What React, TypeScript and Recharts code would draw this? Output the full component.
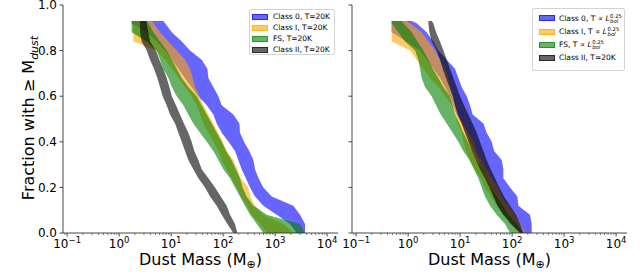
import React from 'react';
import { ComposedChart, Area, XAxis, YAxis } from 'recharts';

// Fraction of sources with mass >= M (shared vertical grid)
const fracs = [0.93, 0.92, 0.88, 0.84, 0.80, 0.76, 0.72, 0.68, 0.64, 0.60, 0.56, 0.52, 0.48, 0.44, 0.40, 0.36, 0.32, 0.28, 0.24, 0.20, 0.16, 0.12, 0.08, 0.04, 0.00];

// Left panel (T = 20K): lower / upper dust mass (M_earth) of each band
const class0LeftLo = [1.74, 1.74, 3.39, 5.26, 7.64, 10.3, 13.8, 18.5, 24.8, 33.4, 48.4, 64.9, 75.2, 93.9, 127, 169, 196, 227, 274, 329, 411, 594, 1073, 1936, 2600];
const class0LeftHi = [7.08, 7.64, 10.3, 16.0, 23.1, 38.7, 49.8, 52.0, 64.9, 81.0, 93.9, 157, 206, 211, 252, 318, 382, 411, 479, 594, 860, 2240, 3020, 3760, 3760];
const class1LeftLo = [1.88, 1.88, 1.88, 1.88, 5.26, 7.64, 10.3, 13.8, 18.5, 24.8, 31.0, 36.0, 41.7, 52.0, 64.9, 81.0, 93.9, 117, 145, 183, 218, 283, 355, 513, 690];
const class1LeftHi = [4.24, 4.55, 6.11, 8.84, 12.8, 18.5, 23.1, 26.0, 28.8, 35.1, 41.7, 52.0, 64.9, 81.0, 98.2, 117, 157, 188, 218, 305, 329, 411, 594, 1435, 2240];
const fsLeftLo = [1.74, 1.74, 1.74, 3.39, 5.26, 6.11, 7.08, 8.84, 10.3, 12.8, 17.2, 21.4, 26.7, 36.0, 48.4, 64.9, 81.0, 101, 136, 169, 211, 264, 329, 444, 594];
const fsLeftHi = [3.39, 3.65, 4.55, 6.11, 8.21, 10.3, 12.8, 16.0, 21.4, 31.0, 38.7, 48.4, 60.3, 75.2, 93.9, 114, 145, 176, 211, 237, 283, 382, 690, 3020, 3760];
const class2LeftLo = [2.52, 2.52, 2.52, 2.71, 3.39, 3.93, 4.69, 5.43, 6.11, 6.88, 8.21, 9.53, 11.9, 13.8, 16.0, 18.5, 21.4, 26.7, 33.4, 44.9, 56.0, 75.2, 93.9, 121, 157];
const class2LeftHi = [3.39, 3.39, 3.65, 3.93, 5.12, 5.93, 7.08, 8.21, 9.25, 10.3, 12.4, 14.8, 17.6, 21.4, 24.8, 27.9, 33.4, 38.7, 52.0, 69.8, 89.9, 117, 136, 169, 188];

// Right panel (T proportional to Lbol^0.25)
const class0RightLo = [0.482, 0.482, 0.482, 0.937, 1.69, 2.27, 3.05, 4.10, 5.12, 6.39, 7.41, 8.59, 10.7, 13.4, 15.5, 18.5, 22.4, 26.0, 32.4, 37.6, 44.9, 54.4, 67.9, 91.2, 142];
const class0RightHi = [1.17, 1.46, 2.27, 3.05, 3.81, 5.51, 7.97, 9.24, 10.7, 13.4, 15.5, 17.4, 28.0, 32.4, 40.5, 44.9, 63.0, 67.9, 67.9, 91.2, 126, 132, 221, 238, 238];
const class1RightLo = [0.482, 0.482, 0.482, 0.482, 1.09, 1.46, 1.96, 2.63, 3.81, 5.12, 6.88, 7.97, 8.84, 10.7, 11.5, 13.0, 15.5, 18.5, 24.9, 30.1, 38.7, 50.5, 65.9, 98.2, 142];
const class1RightHi = [0.937, 1.09, 1.82, 2.45, 3.29, 4.10, 5.12, 5.94, 6.68, 7.41, 7.97, 9.24, 11.5, 14.4, 18.5, 20.8, 26.0, 32.4, 40.5, 54.4, 63.0, 84.7, 114, 142, 177];
const fsRightLo = [0.482, 0.482, 0.648, 0.870, 1.36, 1.57, 1.69, 1.82, 2.11, 2.84, 3.44, 4.23, 5.51, 7.19, 9.24, 11.5, 15.1, 18.5, 22.4, 26.0, 30.1, 37.6, 50.5, 73.1, 91.2];
const fsRightHi = [0.751, 0.809, 1.17, 1.50, 1.96, 2.45, 2.97, 3.81, 4.76, 6.39, 7.19, 7.97, 9.66, 11.5, 14.0, 16.7, 20.8, 26.0, 32.4, 38.7, 50.5, 65.9, 84.7, 123, 165];
const class2RightLo = [2.45, 2.45, 2.56, 2.84, 3.54, 4.10, 4.62, 5.35, 6.20, 7.19, 7.97, 8.98, 10.7, 12.4, 14.4, 16.7, 20.2, 24.1, 30.1, 36.5, 43.6, 52.0, 67.9, 98.2, 142];
const class2RightHi = [2.84, 3.05, 3.44, 4.10, 4.76, 5.51, 6.39, 7.41, 8.59, 9.95, 11.9, 14.4, 17.4, 20.8, 24.1, 28.0, 32.4, 38.7, 46.9, 56.8, 69.9, 91.2, 119, 142, 165];

// Axis extent and ticks
const xDomain = [0.0832, 16200];
const xMajorTicks = [0.1, 1, 10, 100, 1000, 10000];
const xMajorExponents = ['\u22121', '0', '1', '2', '3', '4'];
const xMinorTicks = [0.09, 0.2, 0.3, 0.4, 0.5, 0.6, 0.7, 0.8, 0.9, 2, 3, 4, 5, 6, 7, 8, 9, 20, 30, 40, 50, 60, 70, 80, 90, 200, 300, 400, 500, 600, 700, 800, 900, 2000, 3000, 4000, 5000, 6000, 7000, 8000, 9000];
const yTicks = [0, 0.2, 0.4, 0.6, 0.8, 1.0];
const yTickLabels = ['0.0', '0.2', '0.4', '0.6', '0.8', '1.0'];

// Legend
const seriesNames = ['Class 0', 'Class I', 'FS', 'Class II'];
const leftTempLabels = ['T=20K', 'T=20K', 'T=20K', 'T=20K'];
const rightTempIsLbol = [true, true, true, false];

const COLORS = ['#0000ff', '#ffa500', '#008000', '#000000'];
const RGBA = ['rgba(0,0,255,0.6)', 'rgba(255,165,0,0.6)', 'rgba(0,128,0,0.6)', 'rgba(0,0,0,0.6)'];
const AXIS = '#333';
const FONT = '"DejaVu Sans", sans-serif';

function buildRows(lo: number[][], hi: number[][]) {
  return fracs.map((f, i) => ({
    f,
    s0: [lo[0][i], hi[0][i]],
    s1: [lo[1][i], hi[1][i]],
    s2: [lo[2][i], hi[2][i]],
    s3: [lo[3][i], hi[3][i]],
  }));
}

const leftRows = buildRows(
  [class0LeftLo, class1LeftLo, fsLeftLo, class2LeftLo],
  [class0LeftHi, class1LeftHi, fsLeftHi, class2LeftHi]
);
const rightRows = buildRows(
  [class0RightLo, class1RightLo, fsRightLo, class2RightLo],
  [class0RightHi, class1RightHi, fsRightHi, class2RightHi]
);

const allXTicks = [...xMajorTicks, ...xMinorTicks].sort((a, b) => a - b);

function XTick(props: any) {
  const { x, y, payload } = props;
  const v = payload.value;
  const idx = xMajorTicks.indexOf(v);
  const major = idx >= 0;
  return (
    <g>
      <line x1={x} x2={x} y1={y} y2={y + (major ? 3.5 : 2)} stroke={AXIS} strokeWidth={major ? 0.9 : 0.6} />
      {major && (
        <text x={x} y={y + 14.5} textAnchor="middle" fontSize={12} fill="#000" fontFamily={FONT}>
          <tspan>10</tspan>
          <tspan dy={-4.5} fontSize={8.5}>{xMajorExponents[idx]}</tspan>
        </text>
      )}
    </g>
  );
}

function YTick(props: any) {
  const { x, y, payload, showLabel } = props;
  const idx = yTicks.indexOf(payload.value);
  return (
    <g>
      {showLabel && (
        <text x={x} y={y} dy={4.2} textAnchor="end" fontSize={12} fill="#000" fontFamily={FONT}>
          {yTickLabels[idx]}
        </text>
      )}
    </g>
  );
}

function Panel({ rows, width, margin, yWidth, showYLabels }: any) {
  return (
    <ComposedChart layout="vertical" width={width} height={275} data={rows} margin={margin} style={{ fontFamily: FONT, overflow: 'visible' }}>
      <XAxis
        xAxisId="b"
        type="number"
        scale="log"
        domain={xDomain}
        allowDataOverflow
        ticks={allXTicks}
        interval={0}
        tick={<XTick />}
        tickLine={false}
        tickSize={0}
        tickMargin={0}
        height={30}
        axisLine={{ stroke: AXIS, strokeWidth: 0.9 }}
      />
      <XAxis
        xAxisId="t"
        orientation="top"
        type="number"
        domain={[0, 1]}
        tick={false}
        tickLine={false}
        height={0}
        axisLine={{ stroke: AXIS, strokeWidth: 0.9 }}
      />
      <YAxis
        yAxisId="l"
        type="number"
        dataKey="f"
        domain={[0, 1]}
        reversed
        ticks={yTicks}
        interval={0}
        width={yWidth}
        tickSize={3.5}
        tickMargin={2.5}
        tickLine={{ stroke: AXIS, strokeWidth: 0.9 }}
        tick={<YTick showLabel={showYLabels} />}
        axisLine={{ stroke: AXIS, strokeWidth: 0.9 }}
      />
      <YAxis
        yAxisId="r"
        orientation="right"
        type="number"
        domain={[0, 1]}
        tick={false}
        tickLine={false}
        width={0}
        axisLine={{ stroke: AXIS, strokeWidth: 0.9 }}
      />
      {['s0', 's1', 's2', 's3'].map((k, i) => (
        <Area
          key={k}
          xAxisId="b"
          yAxisId="l"
          dataKey={k}
          type="linear"
          fill={COLORS[i]}
          fillOpacity={0.6}
          stroke="none"
          isAnimationActive={false}
          dot={false}
          activeDot={false}
        />
      ))}
    </ComposedChart>
  );
}

function LbolLabel() {
  return (
    <span style={{ display: 'inline-flex', alignItems: 'center' }}>
      <span style={{ fontStyle: 'italic' }}>L</span>
      <span
        style={{
          display: 'inline-flex',
          flexDirection: 'column',
          fontSize: 5.3,
          lineHeight: 0.95,
          marginLeft: 0.5,
          position: 'relative',
          top: 0.5,
        }}
      >
        <span>0.25</span>
        <span style={{ fontStyle: 'italic' }}>bol</span>
      </span>
    </span>
  );
}

function LegendBox({ left, top, width, height, rowH, padTop, patchX, textX, labels }: any) {
  return (
    <div
      style={{
        position: 'absolute',
        left,
        top,
        width,
        height,
        boxSizing: 'border-box',
        border: '1px solid #d3d3d3',
        borderRadius: 2,
        background: 'rgba(255,255,255,0.8)',
        fontFamily: FONT,
        fontSize: 7.5,
        color: '#000',
      }}
    >
      {labels.map((lab: any, i: number) => (
        <div key={i} style={{ position: 'absolute', left: 0, top: padTop + i * rowH, height: rowH, width: '100%' }}>
          <div
            style={{
              position: 'absolute',
              left: patchX,
              top: rowH / 2 - 3,
              width: 16,
              height: 6,
              boxSizing: 'border-box',
              background: RGBA[i],
              border: '0.8px solid ' + RGBA[i],
            }}
          />
          <div
            style={{
              position: 'absolute',
              left: textX,
              top: 0,
              height: rowH,
              display: 'flex',
              alignItems: 'center',
              whiteSpace: 'nowrap',
              lineHeight: 1,
            }}
          >
            {lab}
          </div>
        </div>
      ))}
    </div>
  );
}

export default function App() {
  const leftLabels = seriesNames.map((n, i) => `${n}, ${leftTempLabels[i]}`);
  const rightLabels = seriesNames.map((n, i) =>
    rightTempIsLbol[i] ? (
      <span style={{ display: 'inline-flex', alignItems: 'center' }}>
        {n}, T{'\u00a0'}
        {'\u221d'}
        {'\u00a0'}
        <LbolLabel />
      </span>
    ) : (
      `${n}, T=20K`
    )
  );
  return (
    <div style={{ position: 'absolute', left: 0, top: 0, width: 640, height: 275, background: '#fff', fontFamily: FONT }}>
      <style>{'.recharts-surface{overflow:visible}.recharts-wrapper{overflow:visible}'}</style>
      <div style={{ position: 'absolute', left: 0, top: 0 }}>
        <Panel rows={leftRows} width={340} margin={{ top: 5, right: 2, bottom: 12, left: 23 }} yWidth={40} showYLabels={true} />
      </div>
      <div style={{ position: 'absolute', left: 340, top: 0 }}>
        <Panel rows={rightRows} width={300} margin={{ top: 5, right: 13, bottom: 12, left: 2 }} yWidth={10} showYLabels={false} />
      </div>
      <svg width={640} height={275} style={{ position: 'absolute', left: 0, top: 0, pointerEvents: 'none' }}>
        <text x={200.5} y={264.5} textAnchor="middle" fontSize={16} fontFamily={FONT} fill="#000">
          Dust Mass (M<tspan dy={3} fontSize={11}>{'\u2295'}</tspan>
          <tspan dy={-3}>)</tspan>
        </text>
        <text x={489.5} y={264.5} textAnchor="middle" fontSize={16} fontFamily={FONT} fill="#000">
          Dust Mass (M<tspan dy={3} fontSize={11}>{'\u2295'}</tspan>
          <tspan dy={-3}>)</tspan>
        </text>
        <text transform="translate(34,118) rotate(-90)" textAnchor="middle" fontSize={16} fontFamily={FONT} fill="#000">
          Fraction with {'\u2265'} M<tspan dy={3.5} fontSize={11} fontStyle="italic">dust</tspan>
        </text>
      </svg>
      <LegendBox left={249} top={9} width={86} height={46} rowH={11} padTop={1.2} patchX={2} textX={23} labels={leftLabels} />
      <LegendBox left={532} top={8} width={93} height={63} rowH={13.3} padTop={2.7} patchX={6} textX={26} labels={rightLabels} />
    </div>
  );
}
